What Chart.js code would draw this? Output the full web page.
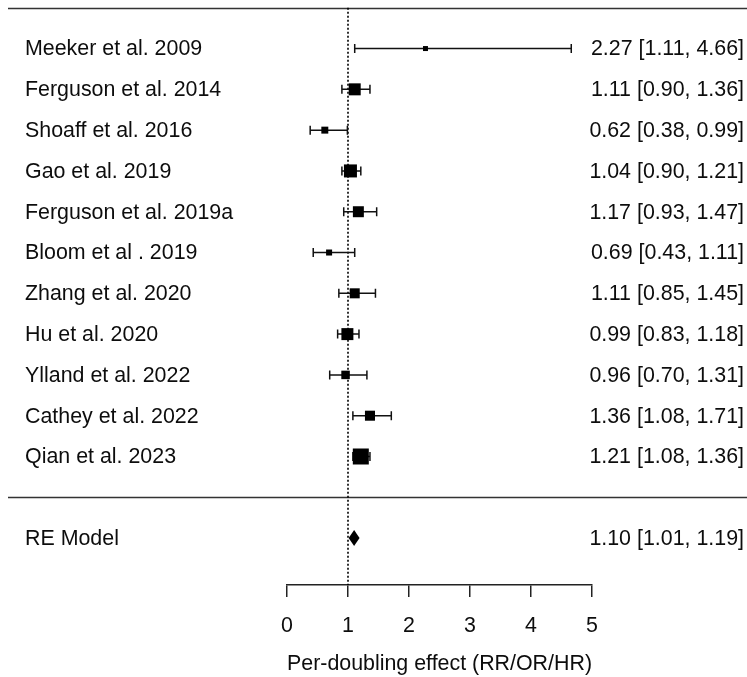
<!DOCTYPE html>
<html>
<head>
<meta charset="utf-8">
<script src="https://cdn.jsdelivr.net/npm/chart.js@4.4.1/dist/chart.umd.min.js"></script>
<style>
  html, body { margin: 0; padding: 0; background: #ffffff; }
  #wrap { width: 747px; height: 677px; }
</style>
</head>
<body>
<div id="wrap"><canvas id="c" width="747" height="677"></canvas></div>
<script>
// ---- data ----
const studies = [
  'Meeker et al. 2009', 'Ferguson et al. 2014', 'Shoaff et al. 2016', 'Gao et al. 2019',
  'Ferguson et al. 2019a', 'Bloom et al . 2019', 'Zhang et al. 2020', 'Hu et al. 2020',
  'Ylland et al. 2022', 'Cathey et al. 2022', 'Qian et al. 2023'
];
const estimates = [2.27, 1.11, 0.62, 1.04, 1.17, 0.69, 1.11, 0.99, 0.96, 1.36, 1.21];
const lowerCI   = [1.11, 0.90, 0.38, 0.90, 0.93, 0.43, 0.85, 0.83, 0.70, 1.08, 1.08];
const upperCI   = [4.66, 1.36, 0.99, 1.21, 1.47, 1.11, 1.45, 1.18, 1.31, 1.71, 1.36];
const weights   = [2.2, 11.8, 4.9, 13.2, 10.4, 3.6, 9.1, 11.8, 7.0, 9.1, 17.3];
const pooledLabel = 'RE Model';
const pooled = [1.10, 1.01, 1.19]; // estimate, lower, upper
const xTicks = [0, 1, 2, 3, 4, 5];
const xTitle = 'Per-doubling effect (RR/OR/HR)';

// ---- layout / style ----
const FONT = '"Liberation Sans", Arial, sans-serif';
const FSIZE = 21.4;
const TXT = '#0d0d0d';
const k = studies.length;
const rows = studies.map((_, i) => k - i);
const pooledRow = -1;
const wMin = Math.min(...weights), wMax = Math.max(...weights);
const sideOf = w => 5 + 11 * (w - wMin) / (wMax - wMin);
const fmt = (e, l, u) => e.toFixed(2) + ' [' + l.toFixed(2) + ', ' + u.toFixed(2) + ']';

const forestPlugin = {
  id: 'forest',
  beforeDatasetsDraw(chart) {
    const {ctx, scales: {x, y}, chartArea} = chart;
    ctx.save();
    // horizontal separators
    ctx.strokeStyle = '#333333';
    ctx.lineWidth = 1.6;
    [k + 1, 0].forEach(r => {
      const py = Math.round(y.getPixelForValue(r)) + 0.5;
      ctx.beginPath();
      ctx.moveTo(8, py);
      ctx.lineTo(chart.width, py);
      ctx.stroke();
    });
    // reference line at 1
    const px1 = x.getPixelForValue(1);
    ctx.strokeStyle = '#000000';
    ctx.lineWidth = 1.6;
    ctx.setLineDash([2, 2]);
    ctx.beginPath();
    ctx.moveTo(px1, y.getPixelForValue(k + 1));
    ctx.lineTo(px1, chartArea.bottom);
    ctx.stroke();
    ctx.setLineDash([]);
    // error bars
    ctx.strokeStyle = '#111111';
    ctx.lineWidth = 1.5;
    studies.forEach((_, i) => {
      const py = y.getPixelForValue(rows[i]);
      const a = x.getPixelForValue(lowerCI[i]);
      const b = x.getPixelForValue(upperCI[i]);
      ctx.beginPath();
      ctx.moveTo(a, py); ctx.lineTo(b, py);
      ctx.moveTo(a, py - 4.5); ctx.lineTo(a, py + 4.5);
      ctx.moveTo(b, py - 4.5); ctx.lineTo(b, py + 4.5);
      ctx.stroke();
    });
    // pooled diamond
    const pyP = y.getPixelForValue(pooledRow);
    ctx.fillStyle = '#000000';
    ctx.beginPath();
    ctx.moveTo(x.getPixelForValue(pooled[1]), pyP);
    ctx.lineTo(x.getPixelForValue(pooled[0]), pyP - 8);
    ctx.lineTo(x.getPixelForValue(pooled[2]), pyP);
    ctx.lineTo(x.getPixelForValue(pooled[0]), pyP + 8);
    ctx.closePath();
    ctx.fill();
    // texts
    ctx.font = FSIZE + 'px ' + FONT;
    ctx.fillStyle = TXT;
    ctx.textBaseline = 'middle';
    studies.forEach((s, i) => {
      const py = y.getPixelForValue(rows[i]) + 1;
      ctx.textAlign = 'left';
      ctx.fillText(s, 25, py);
      ctx.textAlign = 'right';
      ctx.fillText(fmt(estimates[i], lowerCI[i], upperCI[i]), 744, py);
    });
    ctx.textAlign = 'left';
    ctx.fillText(pooledLabel, 25, pyP + 1);
    ctx.textAlign = 'right';
    ctx.fillText(fmt(pooled[0], pooled[1], pooled[2]), 744, pyP + 1);
    ctx.restore();
  }
};

new Chart(document.getElementById('c'), {
  type: 'scatter',
  data: {
    datasets: [{
      data: studies.map((_, i) => ({x: estimates[i], y: rows[i]})),
      pointStyle: 'rect',
      pointRadius: weights.map(w => sideOf(w) / Math.SQRT2),
      pointHoverRadius: weights.map(w => sideOf(w) / Math.SQRT2),
      backgroundColor: '#000000',
      borderWidth: 0
    }]
  },
  options: {
    responsive: false,
    animation: false,
    devicePixelRatio: 1,
    layout: { autoPadding: false, padding: { left: 287, right: 155, top: 0, bottom: 0 } },
    plugins: { legend: { display: false }, tooltip: { enabled: false } },
    events: [],
    scales: {
      x: {
        type: 'linear', min: 0, max: 5,
        afterBuildTicks: axis => { axis.ticks = xTicks.map(v => ({value: v})); },
        afterFit: axis => { axis.height = 92; },
        grid: { display: true, drawOnChartArea: false, drawTicks: true, tickLength: 12, color: '#222222', lineWidth: 1.5 },
        border: { display: true, color: '#222222', width: 1.5 },
        ticks: { font: { family: FONT, size: FSIZE }, color: TXT, padding: 16.5, maxRotation: 0 },
        title: { display: true, text: xTitle, font: { family: FONT, size: FSIZE }, color: TXT, padding: { top: 0, bottom: 0 } }
      },
      y: {
        type: 'linear', min: -2.15, max: 12.19, display: false
      }
    }
  },
  plugins: [forestPlugin]
});
</script>
</body>
</html>
